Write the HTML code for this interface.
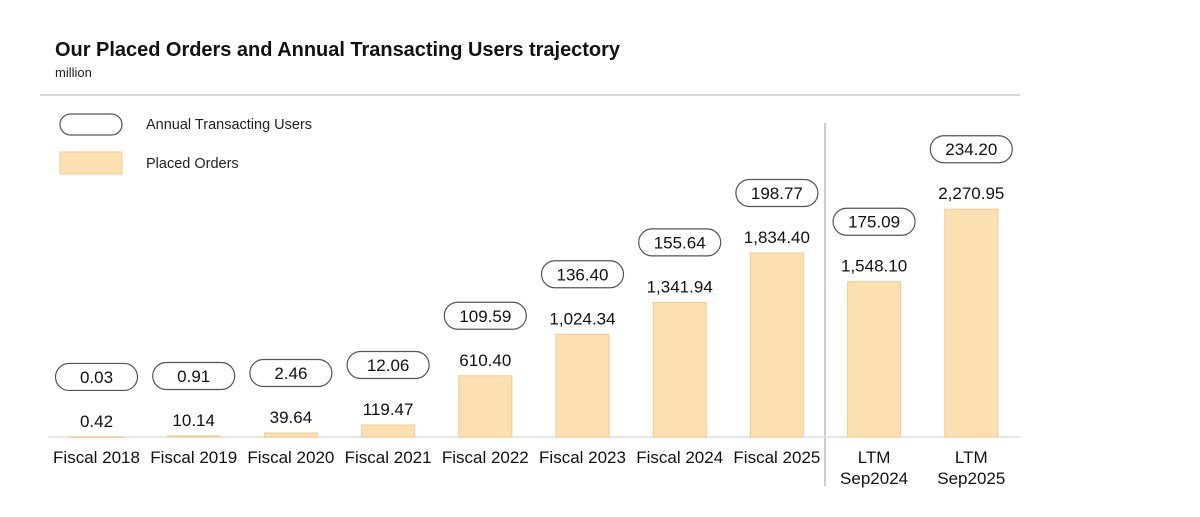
<!DOCTYPE html>
<html><head><meta charset="utf-8"><style>
body{margin:0;background:#fff;width:1200px;height:512px;overflow:hidden;font-family:"Liberation Sans",Arial,sans-serif}
</style></head><body>
<svg id="chart" width="1200" height="512" xmlns="http://www.w3.org/2000/svg" font-family="Liberation Sans, Arial, sans-serif">
<text x="55" y="56" font-size="20" font-weight="bold" fill="#111" textLength="565">Our Placed Orders and Annual Transacting Users trajectory</text>
<text x="55" y="77" font-size="13" fill="#222">million</text>
<line x1="40" y1="95" x2="1020" y2="95" stroke="#ccc" stroke-width="1.5"/>
<g>
<rect x="60" y="114" width="62" height="21" rx="10.5" fill="#fff" stroke="#555" stroke-width="1.2"/>
<text x="146" y="129" font-size="14.5" fill="#222">Annual Transacting Users</text>
<rect x="60" y="152" width="62" height="22" fill="#fde0b2" stroke="#f3c98c" stroke-width="1"/>
<text x="146" y="168" font-size="14.5" fill="#222">Placed Orders</text>
</g>
<line x1="825" y1="123" x2="825" y2="486" stroke="#bbb" stroke-width="1.5"/>
<line x1="48" y1="437" x2="1020" y2="437" stroke="#ddd" stroke-width="1.5"/>
<g id="marks"></g>
</svg>
<script>
const categories=[["Fiscal 2018"],["Fiscal 2019"],["Fiscal 2020"],["Fiscal 2021"],["Fiscal 2022"],["Fiscal 2023"],["Fiscal 2024"],["Fiscal 2025"],["LTM","Sep2024"],["LTM","Sep2025"]];
const placedOrders=[0.42,10.14,39.64,119.47,610.40,1024.34,1341.94,1834.40,1548.10,2270.95];
const users=[0.03,0.91,2.46,12.06,109.59,136.40,155.64,198.77,175.09,234.20];
const NS="http://www.w3.org/2000/svg";
const g=document.getElementById('marks');
const baseY=437, scale=0.1003;
function xPos(i){return 96.5+i*97.2;}
function yPos(v){return baseY-v*scale;}
function mk(t,a,txt){const e=document.createElementNS(NS,t);for(const k in a)e.setAttribute(k,a[k]);if(txt!==undefined)e.textContent=txt;g.appendChild(e);return e;}
function fmt(v){return v.toLocaleString('en-US',{minimumFractionDigits:2,maximumFractionDigits:2});}
categories.forEach((c,i)=>{
 const cx=xPos(i), top=yPos(placedOrders[i]);
 const bar=mk('rect',{x:cx-26.5,y:top,width:53,height:Math.max(baseY-top,0.5),fill:'#fde0b2',stroke:'#f3c98c','stroke-width':1});
 
 
 const lbl=mk('text',{x:cx,y:top-10,'text-anchor':'middle','font-size':17,fill:'#111'},fmt(placedOrders[i]));
 
 
 const py=top-60;
 const pill=mk('rect',{x:cx-41,y:py-13.5,width:82,height:27,rx:13.5,fill:'#fff',stroke:'#555','stroke-width':1.2});
 
 
 const pt=mk('text',{x:cx,y:py+6,'text-anchor':'middle','font-size':17,fill:'#111'},fmt(users[i]));
 
 
 c.forEach((line,j)=>{
  const t=mk('text',{x:cx,y:463+j*21,'text-anchor':'middle','font-size':17,fill:'#111'},line);
  
  
 });
});
</script>
</body></html>
